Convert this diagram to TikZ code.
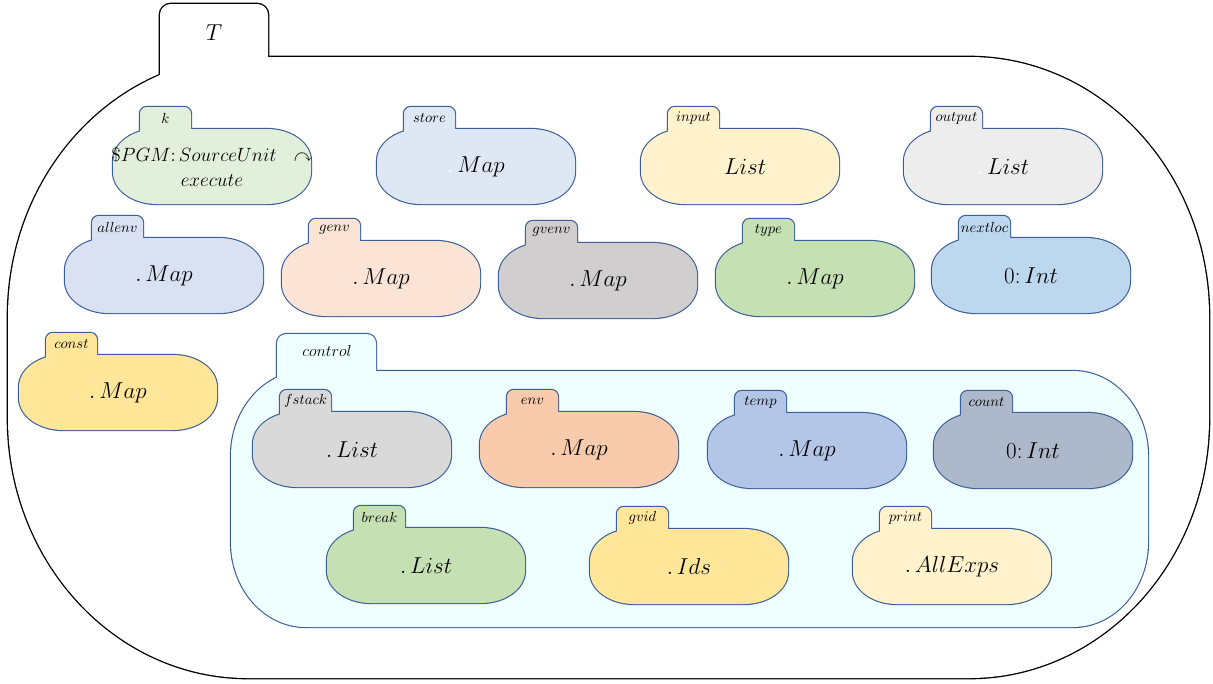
\documentclass[tikz,border=0pt]{standalone}
\usepackage{amssymb}
\definecolor{cellblue}{HTML}{3B5E98}
\definecolor{ckfill}{HTML}{E2EFDA}
\definecolor{cstore}{HTML}{DEE8F5}
\definecolor{cinput}{HTML}{FFF2CC}
\definecolor{coutput}{HTML}{EDEDED}
\definecolor{callenv}{HTML}{D9E1F2}
\definecolor{cgenv}{HTML}{FBE4D5}
\definecolor{cgvenv}{HTML}{D0CECE}
\definecolor{ctype}{HTML}{C5E0B3}
\definecolor{cnextloc}{HTML}{BDD7EE}
\definecolor{cconst}{HTML}{FFE699}
\definecolor{ccontrol}{HTML}{EFFFFF}
\definecolor{cfstack}{HTML}{D9D9D9}
\definecolor{cenv}{HTML}{F8CBAD}
\definecolor{ctemp}{HTML}{B4C6E7}
\definecolor{ccount}{HTML}{ADB9CA}
\definecolor{cbreak}{HTML}{C5E0B3}
\definecolor{cgvid}{HTML}{FFE699}
\definecolor{cprint}{HTML}{FFF2CC}
\tikzset{
  cellline/.style={draw=cellblue, line width=1.7pt},
  lab/.style={font=\fontsize{11}{12}\selectfont, inner sep=0pt},
  val/.style={font=\fontsize{17}{20}\selectfont, inner sep=0pt, align=center},
  kval/.style={font=\fontsize{14}{19}\selectfont, inner sep=0pt, align=center},
}
\newcommand\kcell[7][val]{%
  \begin{scope}[shift={(#3,#4)}]
    \path[cellline, rounded corners=5pt] (27,12) -- (27,-22) -- (78,-22) -- (78,12) -- cycle;
    \path[cellline] (0,32) .. controls (0,14.3) and (19.7,0) .. (44,0) -- (154,0) .. controls (178.3,0) and (198,14.3) .. (198,32) -- (198,43) .. controls (198,60.7) and (178.3,75) .. (154,75) -- (44,75) .. controls (19.7,75) and (0,60.7) .. (0,43) -- cycle;
    \path[fill=#5, rounded corners=5pt] (27,12) -- (27,-22) -- (78,-22) -- (78,12) -- cycle;
    \path[fill=#5] (0,32) .. controls (0,14.3) and (19.7,0) .. (44,0) -- (154,0) .. controls (178.3,0) and (198,14.3) .. (198,32) -- (198,43) .. controls (198,60.7) and (178.3,75) .. (154,75) -- (44,75) .. controls (19.7,75) and (0,60.7) .. (0,43) -- cycle;
    \node[lab] (#2lab) at (52.5,-11) {$#6$};
    \node[#1] (#2) at (99,37.5) {#7};
  \end{scope}}
\begin{document}
\begin{tikzpicture}[x=0.75pt, y=-0.75pt]
\useasboundingbox (0,0) rectangle (1213,683);
% outer T cell
\path[draw=black, line width=2pt, rounded corners=8pt] (160,120) -- (160,4) -- (268,4) -- (268,120) -- cycle;
\path[draw=black, line width=2pt] (8,317) .. controls (8,173.4) and (115.5,57) .. (248,57) -- (969,57) .. controls (1101.5,57) and (1209,173.4) .. (1209,317) -- (1209,418) .. controls (1209,561.6) and (1101.5,678) .. (969,678) -- (248,678) .. controls (115.5,678) and (8,561.6) .. (8,418) -- cycle;
\path[fill=white, rounded corners=8pt] (160,120) -- (160,4) -- (268,4) -- (268,120) -- cycle;
\path[fill=white] (8,317) .. controls (8,173.4) and (115.5,57) .. (248,57) -- (969,57) .. controls (1101.5,57) and (1209,173.4) .. (1209,317) -- (1209,418) .. controls (1209,561.6) and (1101.5,678) .. (969,678) -- (248,678) .. controls (115.5,678) and (8,561.6) .. (8,418) -- cycle;
\node[font=\fontsize{17}{19}\selectfont, inner sep=0pt] (Tlab) at (214,33) {$T$};
% control cell
\path[cellline, rounded corners=7pt] (277,400) -- (277,334) -- (376,334) -- (376,400) -- cycle;
\path[cellline] (231,456) .. controls (231,409) and (264.6,371) .. (306,371) -- (1073,371) .. controls (1114.4,371) and (1148,409) .. (1148,456) -- (1148,542) .. controls (1148,589) and (1114.4,627) .. (1073,627) -- (306,627) .. controls (264.6,627) and (231,589) .. (231,542) -- cycle;
\path[fill=ccontrol, rounded corners=7pt] (277,400) -- (277,334) -- (376,334) -- (376,400) -- cycle;
\path[fill=ccontrol] (231,456) .. controls (231,409) and (264.6,371) .. (306,371) -- (1073,371) .. controls (1114.4,371) and (1148,409) .. (1148,456) -- (1148,542) .. controls (1148,589) and (1114.4,627) .. (1073,627) -- (306,627) .. controls (264.6,627) and (231,589) .. (231,542) -- cycle;
\node[font=\fontsize{12}{13}\selectfont, inner sep=0pt] (controllab) at (327,351) {$control$};
% inner cells
\kcell[kval]{k}{113}{129}{ckfill}{k}{$\$PGM\colon SourceUnit\ \ \curvearrowright$\\$execute$}
\kcell{store}{377}{129}{cstore}{store}{$\textcolor{white}{.}\,Map$}
\kcell{input}{641}{129}{cinput}{input}{$\textcolor{cinput}{.}\,List$}
\kcell{output}{904}{129}{coutput}{output}{$\textcolor{white}{.}\,List$}
\kcell{allenv}{65}{238}{callenv}{allenv}{$.\,Map$}
\kcell{genv}{282}{241}{cgenv}{genv}{$.\,Map$}
\kcell{gvenv}{499}{243}{cgvenv}{gvenv}{$.\,Map$}
\kcell{type}{716}{241}{ctype}{type}{$.\,Map$}
\kcell{nextloc}{932}{238}{cnextloc}{nextloc}{$0\colon Int$}
\kcell{const}{19}{355}{cconst}{const}{$.\,Map$}
\kcell{fstack}{253}{412}{cfstack}{fstack}{$.\,List$}
\kcell{env}{480}{412}{cenv}{env}{$.\,Map$}
\kcell{temp}{708}{413}{ctemp}{temp}{$.\,Map$}
\kcell{count}{934}{413}{ccount}{count}{$0\colon Int$}
\kcell{break}{327}{528}{cbreak}{break}{$.\,List$}
\kcell{gvid}{590}{529}{cgvid}{gvid}{$.\,Ids$}
\kcell{print}{853}{529}{cprint}{print}{$.\,AllExps$}
\end{tikzpicture}
\end{document}
